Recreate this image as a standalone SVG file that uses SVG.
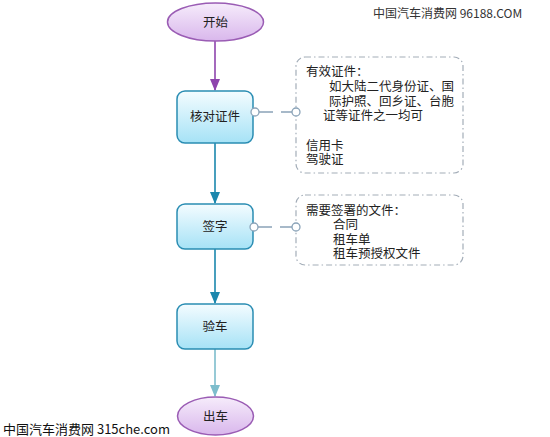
<svg xmlns="http://www.w3.org/2000/svg" width="550" height="437" viewBox="0 0 550 437">
<defs>
<linearGradient id="gEll" x1="0" y1="0" x2="0" y2="1"><stop offset="0" stop-color="#f6ecfb"/><stop offset="1" stop-color="#d9b7ec"/></linearGradient>
<linearGradient id="gBox" x1="0" y1="0" x2="0" y2="1"><stop offset="0" stop-color="#f4fcff"/><stop offset="1" stop-color="#a6e2f6"/></linearGradient>
<marker id="aP" markerWidth="12" markerHeight="10" refX="11" refY="5" orient="auto" markerUnits="userSpaceOnUse"><path d="M0,0 L12,5 L0,10 Z" fill="#8e44ad"/></marker>
<marker id="aB" markerWidth="12" markerHeight="10" refX="11" refY="5" orient="auto" markerUnits="userSpaceOnUse"><path d="M0,0 L12,5 L0,10 Z" fill="#1b87ad"/></marker>
<marker id="aL" markerWidth="12" markerHeight="10" refX="11" refY="5" orient="auto" markerUnits="userSpaceOnUse"><path d="M0,0 L12,5 L0,10 Z" fill="#7dbdcc"/></marker>
</defs>
<style>
.ell{fill:url(#gEll);stroke:#9a5cb4;stroke-width:1.5}
.box{fill:url(#gBox);stroke:#2a8db3;stroke-width:1.5}
.note{fill:#fff;stroke:#a3adb8;stroke-width:1.2;stroke-dasharray:6 3 1.5 3}
.t{font-family:"Noto Sans CJK SC","Noto Sans",sans-serif;font-size:12.5px;fill:#222}
.n{font-family:"Liberation Sans","Noto Sans CJK SC",sans-serif;font-size:12.5px;fill:#222}
.c{text-anchor:middle}
.dot{fill:#fff;stroke:#8aa3b8;stroke-width:1.3}
.lnk{stroke:#8aa3b8;stroke-width:1.3;stroke-dasharray:14 8;fill:none}
.wm{font-family:"Noto Sans CJK SC","Liberation Sans",sans-serif;font-size:13px;fill:#111}
</style>
<rect width="550" height="437" fill="#fff"/>
<g id="connectors">
<line x1="215" y1="41" x2="215" y2="90" stroke="#8e44ad" stroke-width="1.6" marker-end="url(#aP)"/>
<line x1="215" y1="143" x2="215" y2="203" stroke="#1b87ad" stroke-width="1.6" marker-end="url(#aB)"/>
<line x1="215" y1="249" x2="215" y2="303" stroke="#1b87ad" stroke-width="1.6" marker-end="url(#aB)"/>
<line x1="215" y1="349" x2="215" y2="396" stroke="#7dbdcc" stroke-width="1.6" marker-end="url(#aL)"/>
<path class="lnk" d="M259,112 H292"/>
<path class="lnk" d="M258,227 H292"/>
</g>
<g id="start"><ellipse class="ell" cx="215.5" cy="22" rx="48" ry="19"/><text class="t c" x="215.5" y="26.5">开始</text></g>
<g id="verify"><rect class="box" x="177" y="91" width="76" height="52" rx="8"/><text class="t c" x="215" y="121">核对证件</text></g>
<g id="sign"><rect class="box" x="177" y="204" width="76" height="45" rx="8"/><text class="t c" x="215" y="231">签字</text></g>
<g id="inspect"><rect class="box" x="177" y="304" width="76" height="45" rx="8"/><text class="t c" x="215" y="331">验车</text></g>
<g id="end"><ellipse class="ell" cx="215.5" cy="416" rx="38" ry="19"/><text class="t c" x="215.5" y="420.5">出车</text></g>
<g id="note1">
<rect class="note" x="296" y="57" width="167" height="116" rx="9"/>
<text class="n"><tspan x="306" y="76">有效证件：</tspan><tspan x="329" y="91">如大陆二代身份证、国</tspan><tspan x="329" y="105.5">际护照、回乡证、台胞</tspan><tspan x="323" y="120">证等证件之一均可</tspan><tspan x="306" y="149.5">信用卡</tspan><tspan x="306" y="164">驾驶证</tspan></text>
</g>
<g id="note2">
<rect class="note" x="296" y="195" width="167" height="70" rx="9"/>
<text class="n"><tspan x="306" y="214.5">需要签署的文件：</tspan><tspan x="333" y="229">合同</tspan><tspan x="333" y="243.5">租车单</tspan><tspan x="333" y="258">租车预授权文件</tspan></text>
</g>
<g id="ports">
<circle class="dot" cx="255" cy="112" r="4"/><circle class="dot" cx="296" cy="112" r="4"/>
<circle class="dot" cx="254" cy="227" r="4"/><circle class="dot" cx="296" cy="227" r="4"/>
</g>
<text class="wm" x="3" y="434">中国汽车消费网 315che.com</text>
<text class="wm" x="373" y="18" style="font-size:12px;fill:#333">中国汽车消费网 96188.COM</text>
</svg>
